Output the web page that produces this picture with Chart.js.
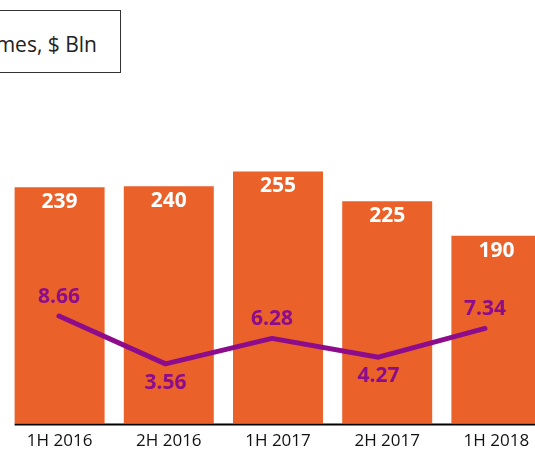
<!DOCTYPE html>
<html>
<head>
<meta charset="utf-8">
<script src="https://cdn.jsdelivr.net/npm/chart.js@4/dist/chart.umd.min.js"></script>
<style>
  html, body { margin: 0; padding: 0; overflow: hidden; background: #fff; }
  #wrap { position: relative; width: 551px; height: 459px; }
  #legendBox {
    position: absolute; top: 10px; left: -100px; width: 221px; height: 63px;
    box-sizing: border-box; border: 1px solid #333; background: #fff;
    font-family: "Open Sans", sans-serif; font-size: 21px; color: #222;
    text-align: right; padding-right: 23px; line-height: 66px; white-space: nowrap;
  }
</style>
</head>
<body>
<div id="wrap">
  <canvas id="chart" width="551" height="459"></canvas>
  <div id="legendBox">Volumes, $ Bln</div>
</div>
<script>
const periods = ['1H 2016', '2H 2016', '1H 2017', '2H 2017', '1H 2018'];
const volumes = [239, 240, 255, 225, 190];
const rates = [8.66, 3.56, 6.28, 4.27, 7.34];

const orange = '#eb612a';
const purple = '#8c0c8c';
const rateSide = ['top', 'bottom', 'top', 'bottom', 'top'];

const labelsPlugin = {
    id: 'valueLabels',
    afterDatasetsDraw(chart) {
        const ctx = chart.ctx;
        ctx.save();
        ctx.textAlign = 'center';
        ctx.textBaseline = 'middle';
        ctx.font = 'bold 21px "Open Sans"';
        const bars = chart.getDatasetMeta(0).data;
        ctx.fillStyle = '#fff';
        bars.forEach((bar, i) => {
            ctx.fillText(String(volumes[i]), bar.x, bar.y + 15);
        });
        const pts = chart.getDatasetMeta(1).data;
        ctx.fillStyle = purple;
        pts.forEach((p, i) => {
            const dy = rateSide[i] === 'top' ? -19 : 19;
            ctx.fillText(rates[i].toFixed(2), p.x, p.y + dy);
        });
        // base line under the bars
        const y = chart.scales.y.getPixelForValue(0);
        const first = bars[0];
        ctx.strokeStyle = '#000';
        ctx.lineWidth = 2;
        ctx.beginPath();
        ctx.moveTo(first.x - first.width / 2, y + 1);
        ctx.lineTo(chart.chartArea.right, y + 1);
        ctx.stroke();
        ctx.restore();
    }
};

const ctx = document.getElementById('chart').getContext('2d');
const myChart = new Chart(ctx, {
    data: {
        labels: periods,
        datasets: [{
            type: 'bar',
            data: volumes,
            backgroundColor: orange,
            barPercentage: 0.824,
            categoryPercentage: 1,
            grouped: false,
            yAxisID: 'y',
            order: 2
        }, {
            type: 'line',
            data: rates.map((v, i) => ({ x: i, y: v })),
            borderColor: purple,
            borderWidth: 5,
            borderCapStyle: 'round',
            borderJoinStyle: 'round',
            pointRadius: 0,
            tension: 0,
            xAxisID: 'x2',
            yAxisID: 'y2',
            order: 1
        }]
    },
    options: {
        responsive: false,
        animation: false,
        events: [],
        layout: {
            padding: { top: 127, left: 5, right: 0, bottom: 1 }
        },
        plugins: {
            legend: { display: false },
            tooltip: { enabled: false }
        },
        scales: {
            x: {
                grid: { display: false, drawTicks: false },
                border: { display: false },
                ticks: {
                    color: '#111',
                    padding: 7,
                    font: { family: 'Open Sans', size: 17 }
                }
            },
            x2: {
                type: 'linear',
                display: false,
                min: -0.507,
                max: 4.62
            },
            y: {
                display: false,
                min: 0,
                max: 300
            },
            y2: {
                display: false,
                min: -2.82,
                max: 28.85
            }
        }
    },
    plugins: [labelsPlugin]
});
</script>
</body>
</html>
